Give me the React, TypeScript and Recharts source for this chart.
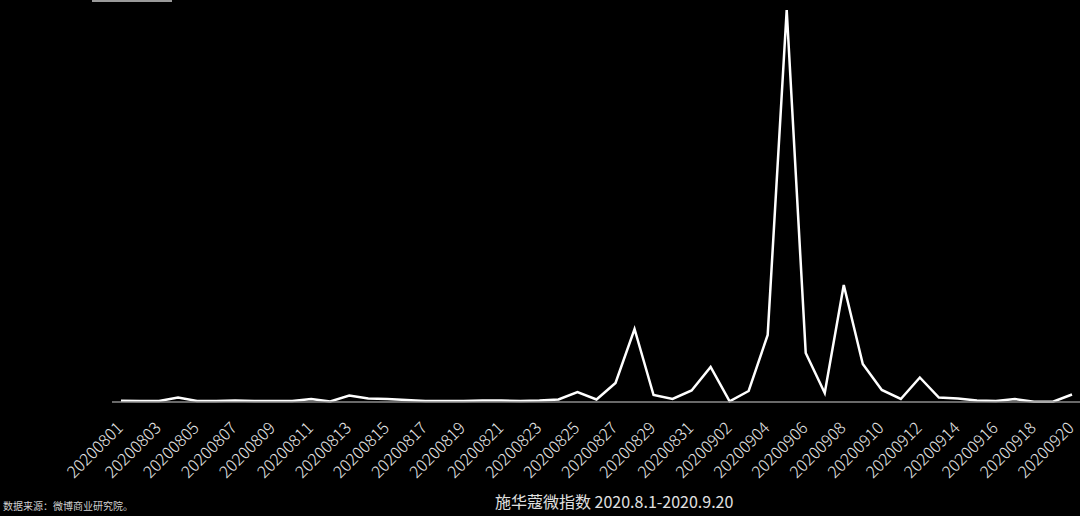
import { LineChart, Line, XAxis, YAxis } from 'recharts';

const dates = [
  '20200801', '20200802', '20200803', '20200804', '20200805', '20200806', '20200807',
  '20200808', '20200809', '20200810', '20200811', '20200812', '20200813', '20200814',
  '20200815', '20200816', '20200817', '20200818', '20200819', '20200820', '20200821',
  '20200822', '20200823', '20200824', '20200825', '20200826', '20200827', '20200828',
  '20200829', '20200830', '20200831', '20200901', '20200902', '20200903', '20200904',
  '20200905', '20200906', '20200907', '20200908', '20200909', '20200910', '20200911',
  '20200912', '20200913', '20200914', '20200915', '20200916', '20200917', '20200918',
  '20200919', '20200920',
];

const indexValues = [
  13, 10, 10, 45, 10, 10, 15, 10, 10, 10, 30, 5, 65, 35, 30, 20, 10, 10, 10, 15, 15,
  10, 15, 25, 100, 25, 190, 730, 70, 30, 115, 350, 6, 110, 670, 3920, 490, 90, 1170,
  380, 120, 30, 245, 45, 35, 15, 10, 30, 3, 3, 75,
];

const title = '施华蔻微指数 2020.8.1-2020.9.20';
const source = '数据来源：微博商业研究院。';

const data = dates.map((date, i) => ({ date, value: indexValues[i] }));

const FONT = '"Noto Sans CJK SC", "Noto Sans", sans-serif';

function DateTick({ x, y, payload }: any) {
  const ax = x + 3;
  const ay = y + 19;
  return (
    <text
      x={ax}
      y={ay}
      transform={`rotate(-45, ${ax}, ${ay})`}
      textAnchor="end"
      fill="#e6e6e6"
      fontSize={16.5}
      fontWeight={300}
      fontFamily={FONT}
    >
      {payload.value}
    </text>
  );
}

export default function App() {
  return (
    <div style={{ position: 'relative', width: 1080, height: 516, background: '#000', overflow: 'hidden' }}>
      <style>{'body{margin:0;background:#000}'}</style>
      <div style={{ position: 'absolute', left: 92, top: 0, width: 80, height: 2, background: '#9a9a9a' }} />
      <LineChart
        width={1080}
        height={516}
        data={data}
        margin={{ top: 10, right: 0, left: 112, bottom: 0 }}
      >
        <XAxis
          dataKey="date"
          interval={1}
          height={114}
          padding={{ left: 9, right: 8 }}
          tickLine={false}
          axisLine={{ stroke: '#8c8c8c', strokeWidth: 1.5 }}
          tick={<DateTick />}
        />
        <YAxis hide domain={[0, 3920]} />
        <Line
          type="linear"
          dataKey="value"
          stroke="#ffffff"
          strokeWidth={2.5}
          dot={false}
          isAnimationActive={false}
        />
      </LineChart>
      <div
        style={{
          position: 'absolute',
          left: 495,
          top: 491,
          fontFamily: FONT,
          fontSize: 16,
          color: '#e0e0e0',
          whiteSpace: 'nowrap',
          lineHeight: '20px',
        }}
      >
        {title}
      </div>
      <div
        style={{
          position: 'absolute',
          left: 3,
          top: 499,
          fontFamily: FONT,
          fontSize: 10,
          color: '#d0d0d0',
          whiteSpace: 'nowrap',
          lineHeight: '14px',
        }}
      >
        {source}
      </div>
    </div>
  );
}
